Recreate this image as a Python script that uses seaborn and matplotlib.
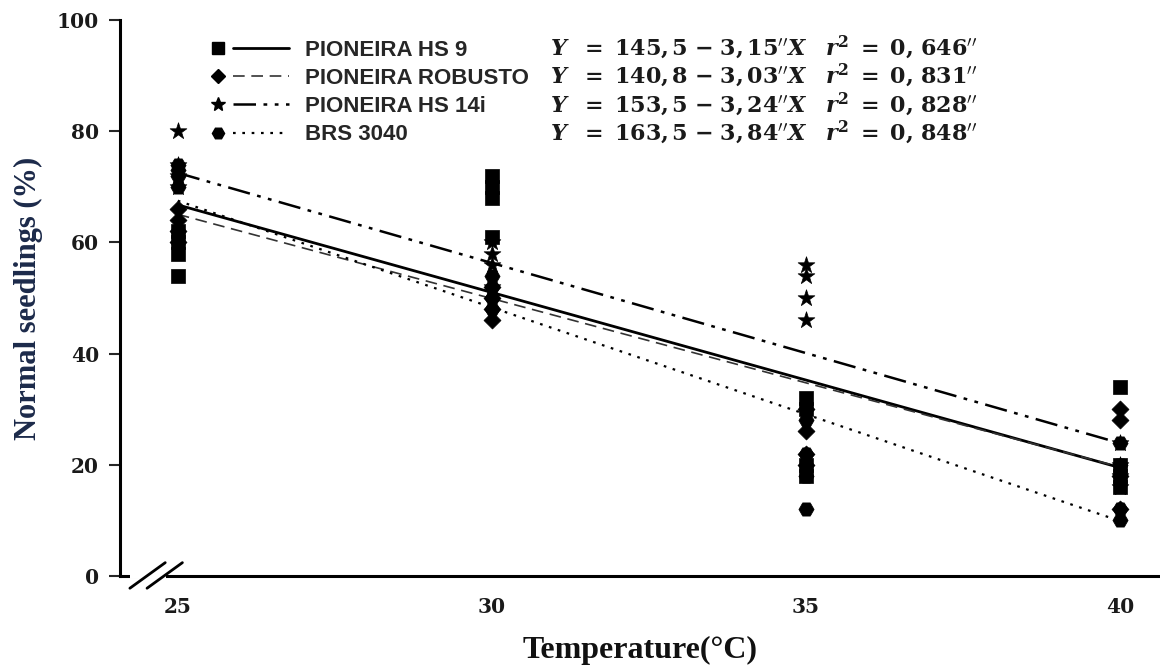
import numpy as np
import pandas as pd
import matplotlib
matplotlib.use("Agg")
import matplotlib.pyplot as plt
import seaborn as sns
from matplotlib.lines import Line2D
from matplotlib.legend_handler import HandlerBase

# ---------------- data ----------------
temperatures = [25, 30, 35, 40]
cultivars = ["PIONEIRA HS 9", "PIONEIRA ROBUSTO", "PIONEIRA HS 14i", "BRS 3040"]

hs9 = {25: [54, 58, 60, 62], 30: [72, 70, 68, 61], 35: [32, 30, 20, 18], 40: [34, 20, 18, 16]}
robusto = {25: [60, 62, 64, 66], 30: [46, 48, 50, 52], 35: [30, 26, 22, 20], 40: [30, 28, 12, 18]}
hs14i = {25: [80, 74, 72, 70], 30: [60, 58, 56, 52], 35: [56, 54, 50, 46], 40: [24, 20, 18, 16]}
brs3040 = {25: [74, 72, 70, 73], 30: [54, 52, 50, 48], 35: [28, 22, 18, 12], 40: [24, 12, 10, 20]}

intercepts = [145.5, 140.8, 153.5, 163.5]
slopes = [-3.15, -3.03, -3.24, -3.84]
intercept_labels = ["145,5", "140,8", "153,5", "163,5"]
slope_labels = ["3,15", "3,03", "3,24", "3,84"]
r2_labels = ["0,646", "0,831", "0,828", "0,848"]

x_ticks = [25, 30, 35, 40]
y_ticks = [0, 20, 40, 60, 80, 100]

# ---------------- build frames ----------------
rows = []
for name, d in zip(cultivars, [hs9, robusto, hs14i, brs3040]):
    for t in temperatures:
        for v in d[t]:
            rows.append({"cultivar": name, "temp": t, "value": v})
points = pd.DataFrame(rows)

fit_rows = []
for name, a, b in zip(cultivars, intercepts, slopes):
    for t in [temperatures[0], temperatures[-1]]:
        fit_rows.append({"cultivar": name, "temp": t, "value": a + b * t})
fits = pd.DataFrame(fit_rows)

# ---------------- styles ----------------
markers = {cultivars[0]: "s", cultivars[1]: "D", cultivars[2]: "*", cultivars[3]: "H"}
msizes = {cultivars[0]: 100, cultivars[1]: 75, cultivars[2]: 160, cultivars[3]: 120}
lstyles = {cultivars[0]: "-", cultivars[1]: (0, (7, 4)),
           cultivars[2]: (0, (9, 3, 1.5, 3, 1.5, 3)), cultivars[3]: (0, (1.2, 3))}
lwidths = {cultivars[0]: 2.0, cultivars[1]: 1.2, cultivars[2]: 1.8, cultivars[3]: 1.6}
lcolors = {cultivars[0]: "black", cultivars[1]: "#333333", cultivars[2]: "black", cultivars[3]: "black"}

sns.set_theme(style="white")
plt.rcParams["font.family"] = ["DejaVu Serif"]
plt.rcParams["mathtext.fontset"] = "dejavuserif"

fig = plt.figure(figsize=(11.6, 6.71), dpi=100)
ax = fig.add_axes([120 / 1160, 95 / 671, 1040 / 1160, 556 / 671])

for name in cultivars:
    sub = points[points.cultivar == name]
    sns.scatterplot(data=sub, x="temp", y="value", marker=markers[name], s=msizes[name],
                    color="black", edgecolor="black", linewidth=0.5, ax=ax, legend=False, zorder=3)
    fsub = fits[fits.cultivar == name]
    sns.lineplot(data=fsub, x="temp", y="value", ax=ax, color=lcolors[name],
                 linestyle=lstyles[name], linewidth=lwidths[name], legend=False, zorder=2)

ax.set_xlim(24.08, 40.64)
ax.set_ylim(0, 100)
ax.set_xticks(x_ticks)
ax.set_yticks(y_ticks)
ax.set_xticklabels([str(t) for t in x_ticks], fontsize=14.5, fontweight="bold", color="#1a1a1a")
ax.set_yticklabels([str(t) for t in y_ticks], fontsize=14.5, fontweight="bold", color="#1a1a1a")
ax.tick_params(axis="y", direction="out", length=8, width=1.5, pad=7, left=True)
ax.tick_params(axis="x", length=0, pad=15)

for s in ["top", "right"]:
    ax.spines[s].set_visible(False)
for s in ["left", "bottom"]:
    ax.spines[s].set_color("black")
    ax.spines[s].set_linewidth(2.2)

ax.set_xlabel("Temperature(°C)", fontsize=23, fontweight="bold",
              family="Liberation Serif", labelpad=14, color="#111111")
ax.set_ylabel("Normal seedlings (%)", fontsize=22, fontweight="bold",
              family="Liberation Serif", color="#1c2a4a", labelpad=10)

# axis break mark
ax.plot([0.0095, 0.0440], [0.0, 0.0], transform=ax.transAxes, color="white",
        linewidth=4, clip_on=False, zorder=5, solid_capstyle="butt")
for x0 in [0.0095, 0.026]:
    ax.plot([x0, x0 + 0.034], [-0.022, 0.024], transform=ax.transAxes, color="black",
            linewidth=2.0, clip_on=False, zorder=6)


# legend: marker on the left, line segment to the right
class MarkerLineHandler(HandlerBase):
    def create_artists(self, legend, orig_handle, xdescent, ydescent, width, height, fontsize, trans):
        m, l = orig_handle
        y = height / 2 - ydescent
        mk = Line2D([-xdescent + 0.08 * width], [y])
        mk.update_from(m)
        mk.set_data([-xdescent + 0.08 * width], [y])
        ln = Line2D([-xdescent + 0.28 * width, -xdescent + width], [y, y])
        ln.update_from(l)
        ln.set_data([-xdescent + 0.28 * width, -xdescent + width], [y, y])
        mk.set_transform(trans)
        ln.set_transform(trans)
        return [mk, ln]


handles = []
for name in cultivars:
    m = Line2D([], [], linestyle="none", marker=markers[name], color="black",
               markersize=np.sqrt(msizes[name]) * 0.8)
    l = Line2D([], [], color=lcolors[name], linestyle=lstyles[name], linewidth=lwidths[name])
    handles.append((m, l))
leg = ax.legend(handles, cultivars, handler_map={tuple: MarkerLineHandler()},
                loc="upper left", bbox_to_anchor=(0.071, 0.996), frameon=False,
                handlelength=3.5, labelspacing=0.32, handletextpad=0.68, borderpad=0.3,
                prop={"family": "Liberation Sans", "weight": "bold", "size": 16})

# equations
for i in range(4):
    eq = (r"$\mathbfit{Y}\ \ \mathbf{=}\ \mathbf{%s}\ \mathbf{-}\ \mathbf{%s}^{\prime\prime}\mathbfit{X}"
          r"\ \ \ \mathbfit{r}^{\mathbf{2}}\ \mathbf{=}\ \mathbf{%s}^{\prime\prime}$"
          % (intercept_labels[i].replace(",", "{,}\\,"), slope_labels[i].replace(",", "{,}\\,"),
             r2_labels[i].replace(",", "{,}\\,\\,")))
    ax.text(0.413, 0.952 - i * 0.0515, eq, transform=ax.transAxes, fontsize=16,
            va="center", ha="left", color="#1a1a1a")

fig.savefig("out.png", dpi=100)
